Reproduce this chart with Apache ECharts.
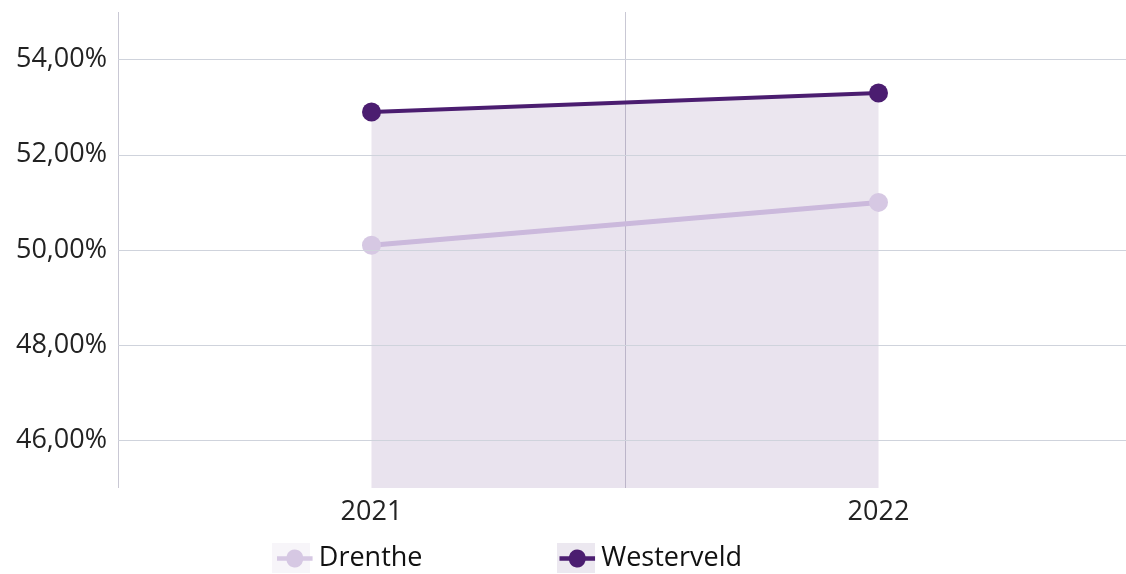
<!DOCTYPE html>
<html>
<head>
<meta charset="utf-8">
<script src="https://cdn.jsdelivr.net/npm/echarts@6/dist/echarts.min.js"></script>
<style>html,body{margin:0;padding:0;background:#fff;overflow:hidden;width:1126px;height:574px}#c{width:1140px;height:574px}</style>
</head>
<body>
<div id="c"></div>
<script>
const categories = ['2021', '2022'];
const drenthe = [50.1, 51.0];
const westerveld = [52.9, 53.3];
const yTicks = [46, 48, 50, 52, 54];

const chart = echarts.init(document.getElementById('c'));
const font = '"Open Sans", "Noto Sans", sans-serif';
const gridColor = '#cfd3dc';
chart.setOption({
  animation: false,
  grid: { left: 118, top: 12, width: 1014, bottom: 86 },
  graphic: [
    { type: 'rect', left: 272, top: 543, shape: { width: 38, height: 30 }, style: { fill: '#f7f5f9' }, z: -1 },
    { type: 'rect', left: 557, top: 543, shape: { width: 38, height: 30 }, style: { fill: '#ece8f0' }, z: -1 }
  ],
  legend: {
    top: 540, left: 272, itemWidth: 38, itemHeight: 18, itemGap: 137,
    textStyle: { fontFamily: font, fontSize: 27, color: '#111' },
    data: [
      { name: 'Drenthe', itemStyle: { color: '#d6c8e3' } },
      { name: 'Westerveld', itemStyle: { color: '#4b1d70' } }
    ],
    icon: 'path://M0,6.5 L10.2,6.5 A9,9 0 0 1 27.8,6.5 L38,6.5 L38,11.5 L27.8,11.5 A9,9 0 0 1 10.2,11.5 L0,11.5 Z'
  },
  xAxis: {
    type: 'category', data: categories, boundaryGap: true,
    axisLine: { show: false }, axisTick: { show: false },
    axisLabel: { fontFamily: font, fontSize: 27, color: '#222', margin: 11 },
    splitLine: { show: true, lineStyle: { color: '#c9c8d4', width: 1 } }
  },
  yAxis: {
    type: 'value', min: 45, max: 55, interval: 1,
    axisLine: { show: false }, axisTick: { show: false },
    axisLabel: {
      fontFamily: font, fontSize: 27, color: '#222', margin: 11,
      formatter: v => yTicks.includes(v) ? v.toFixed(2).replace('.', ',') + '%' : ''
    },
    splitLine: { show: false }
  },
  series: [
    {
      name: 'Westerveld', type: 'line', data: westerveld, z: 3,
      symbol: 'circle', symbolSize: 19,
      itemStyle: { color: '#4b1d70' },
      lineStyle: { color: '#4b1d70', width: 4 },
      areaStyle: { color: '#4b1d70', opacity: 0.11, origin: 'start' },
      markLine: {
        silent: true, symbol: 'none', label: { show: false },
        lineStyle: { color: gridColor, width: 1, type: 'solid' },
        data: yTicks.map(v => ({ yAxis: v }))
      }
    },
    {
      name: 'Drenthe', type: 'line', data: drenthe, z: 4,
      symbol: 'circle', symbolSize: 19,
      itemStyle: { color: '#d6c8e3' },
      lineStyle: { color: '#cbb9dc', width: 5 },
      areaStyle: { color: '#cbb9dc', opacity: 0.06, origin: 'start' }
    }
  ]
});
</script>
</body>
</html>
